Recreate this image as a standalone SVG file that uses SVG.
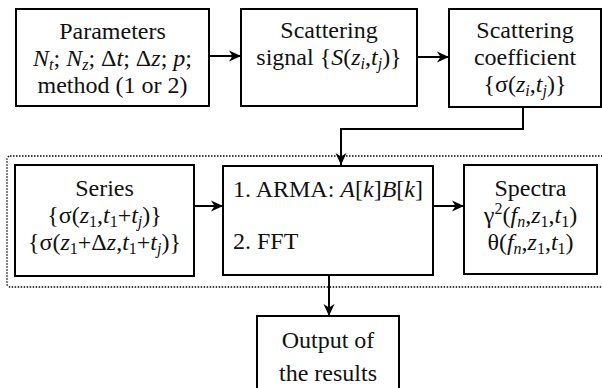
<svg xmlns="http://www.w3.org/2000/svg" width="602" height="388" viewBox="0 0 602 388">
  <defs>
    <marker id="arrow" markerUnits="userSpaceOnUse" markerWidth="14" markerHeight="14" viewBox="0 0 14 14" refX="13" refY="7" orient="auto">
      <path d="M1,1.5 L13,7 L1,12.5 L4.5,7 Z" fill="#000"/>
    </marker>
    <style>
      .box { fill: #fff; stroke: #000; stroke-width: 2; }
      .frame { fill: none; stroke: #000; stroke-width: 1.3; stroke-dasharray: 1.5 1.5; }
      .link { fill: none; stroke: #000; stroke-width: 2; marker-end: url(#arrow); }
      text { font-family: "Liberation Serif", "Times New Roman", serif; font-size: 24px; fill: #111; }
      .c { text-anchor: middle; }
      .i { font-style: italic; }
      .sub { font-size: 16px; baseline-shift: -4px; }
      .sup { font-size: 16px; baseline-shift: 9px; }
    </style>
  </defs>

  <!-- dotted frame around the processing stage -->
  <rect class="frame" x="7" y="156" width="602" height="131" rx="3"/>

  <g id="connectors">
    <path class="link" d="M209,56 H241"/>
    <path class="link" d="M417,57 H449"/>
    <path class="link" d="M523,107 V129 H341 V165"/>
    <path class="link" d="M194,206 H223"/>
    <path class="link" d="M433,206 H464"/>
    <path class="link" d="M329,275 V316"/>
  </g>

  <g id="parameters">
    <rect class="box" x="16" y="9" width="193" height="97"/>
    <text class="c" x="112.5" y="39">Parameters</text>
    <text class="c" x="112.5" y="66"><tspan class="i">N</tspan><tspan class="sub i">t</tspan>; <tspan class="i">N</tspan><tspan class="sub i">z</tspan>; Δ<tspan class="i">t</tspan>; Δ<tspan class="i">z</tspan>; <tspan class="i">p</tspan>;</text>
    <text class="c" x="112.5" y="93">method (1 or 2)</text>
  </g>

  <g id="signal">
    <rect class="box" x="241" y="9" width="176" height="97"/>
    <text class="c" x="329" y="38">Scattering</text>
    <text class="c" x="329" y="65">signal {<tspan class="i">S</tspan>(<tspan class="i">z</tspan><tspan class="sub i">i</tspan>,<tspan class="i">t</tspan><tspan class="sub i">j</tspan>)}</text>
  </g>

  <g id="coefficient">
    <rect class="box" x="449" y="9" width="152" height="98"/>
    <text class="c" x="525" y="38">Scattering</text>
    <text class="c" x="525" y="65">coefficient</text>
    <text class="c" x="525" y="92">{σ(<tspan class="i">z</tspan><tspan class="sub i">i</tspan>,<tspan class="i">t</tspan><tspan class="sub i">j</tspan>)}</text>
  </g>

  <g id="series">
    <rect class="box" x="15" y="165" width="179" height="111"/>
    <text class="c" x="104.5" y="196">Series</text>
    <text class="c" x="104.5" y="223">{σ(<tspan class="i">z</tspan><tspan class="sub">1</tspan>,<tspan class="i">t</tspan><tspan class="sub">1</tspan>+<tspan class="i">t</tspan><tspan class="sub i">j</tspan>)}</text>
    <text class="c" x="104.5" y="250">{σ(<tspan class="i">z</tspan><tspan class="sub">1</tspan>+Δ<tspan class="i">z</tspan>,<tspan class="i">t</tspan><tspan class="sub">1</tspan>+<tspan class="i">t</tspan><tspan class="sub i">j</tspan>)}</text>
  </g>

  <g id="methods">
    <rect class="box" x="223" y="166" width="210" height="109"/>
    <text x="233" y="197">1. ARMA: <tspan class="i">A</tspan>[<tspan class="i">k</tspan>]<tspan class="i">B</tspan>[<tspan class="i">k</tspan>]</text>
    <text x="233" y="249">2. FFT</text>
  </g>

  <g id="spectra">
    <rect class="box" x="464" y="165" width="133" height="109"/>
    <text class="c" x="530.5" y="196">Spectra</text>
    <text class="c" x="530.5" y="223">γ<tspan class="sup">2</tspan>(<tspan class="i">f</tspan><tspan class="sub i">n</tspan>,<tspan class="i">z</tspan><tspan class="sub">1</tspan>,<tspan class="i">t</tspan><tspan class="sub">1</tspan>)</text>
    <text class="c" x="530.5" y="250">θ(<tspan class="i">f</tspan><tspan class="sub i">n</tspan>,<tspan class="i">z</tspan><tspan class="sub">1</tspan>,<tspan class="i">t</tspan><tspan class="sub">1</tspan>)</text>
  </g>

  <g id="output">
    <rect class="box" x="257" y="316" width="142" height="80"/>
    <text class="c" x="328" y="348">Output of</text>
    <text class="c" x="328" y="381">the results</text>
  </g>
</svg>
